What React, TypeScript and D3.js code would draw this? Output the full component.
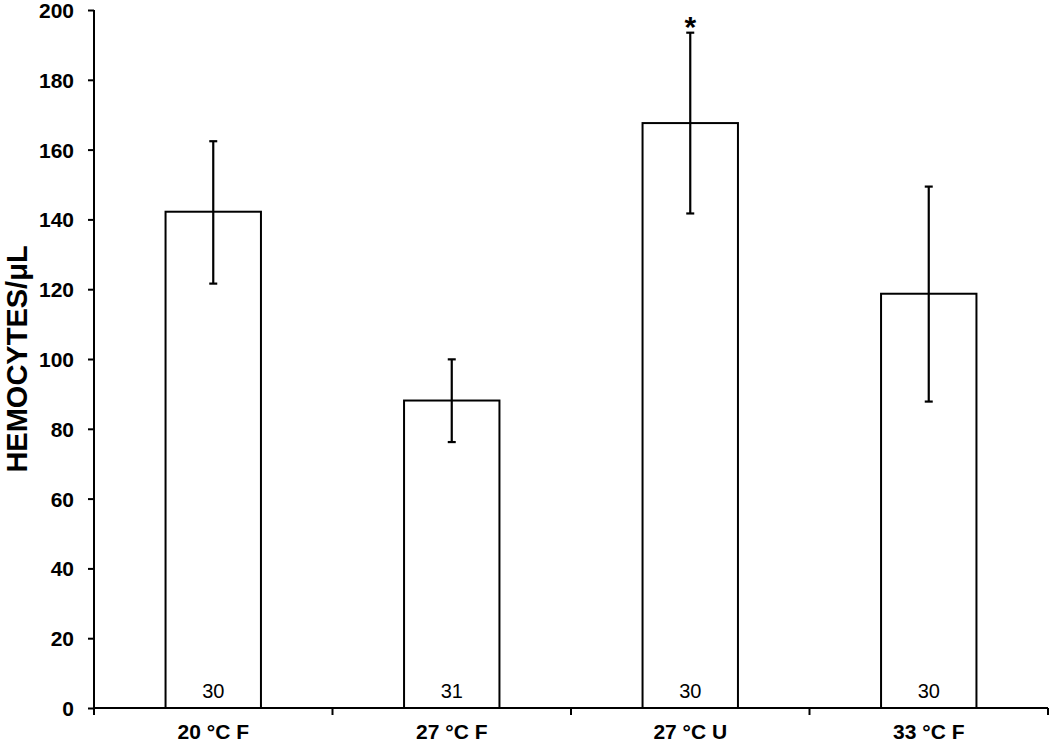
import React, { useEffect, useRef } from "react";
import * as d3 from "d3";

// categories and values
const categories = ["20 °C F", "27 °C F", "27 °C U", "33 °C F"];
const means = [142.2, 88.1, 167.6, 118.7];
const errHigh = [162.4, 99.9, 193.5, 149.4];
const errLow = [121.6, 76.2, 141.7, 87.8];
const sampleSizes = ["30", "31", "30", "30"];
const significant = [false, false, true, false];
const yTicks = [0, 20, 40, 60, 80, 100, 120, 140, 160, 180, 200];

const App = () => {
  const ref = useRef<SVGSVGElement>(null);

  useEffect(() => {
    const svg = d3.select(ref.current);
    svg.selectAll("*").remove();

    const width = 1050;
    const height = 744;
    const margin = { top: 10, right: 2, bottom: 36, left: 94 };
    const font = "Liberation Sans, Arial, sans-serif";

    const x = d3
      .scaleBand()
      .domain(categories)
      .range([margin.left, width - margin.right])
      .paddingInner(0.6)
      .paddingOuter(0.3);

    const y = d3
      .scaleLinear()
      .domain([0, 200])
      .range([height - margin.bottom, margin.top]);

    const data = categories.map((c, i) => ({
      cat: c,
      mean: means[i],
      hi: errHigh[i],
      lo: errLow[i],
      n: sampleSizes[i],
      sig: significant[i],
    }));

    const cx = (d) => x(d.cat)! + x.bandwidth() / 2;

    // bars
    svg
      .append("g")
      .selectAll("rect")
      .data(data)
      .enter()
      .append("rect")
      .attr("x", (d) => x(d.cat)!)
      .attr("y", (d) => y(d.mean))
      .attr("width", x.bandwidth())
      .attr("height", (d) => y(0) - y(d.mean))
      .attr("fill", "white")
      .attr("stroke", "black")
      .attr("stroke-width", 2);

    // error bars
    const eb = svg.append("g").attr("stroke", "black").attr("stroke-width", 2.2);
    eb.selectAll("line.v")
      .data(data)
      .enter()
      .append("line")
      .attr("x1", cx)
      .attr("x2", cx)
      .attr("y1", (d) => y(d.hi))
      .attr("y2", (d) => y(d.lo));
    [(d) => d.hi, (d) => d.lo].forEach((acc) => {
      eb.append("g")
        .selectAll("line")
        .data(data)
        .enter()
        .append("line")
        .attr("x1", (d) => cx(d) - 4)
        .attr("x2", (d) => cx(d) + 4)
        .attr("y1", (d) => y(acc(d)))
        .attr("y2", (d) => y(acc(d)));
    });

    // sample sizes
    svg
      .append("g")
      .selectAll("text")
      .data(data)
      .enter()
      .append("text")
      .attr("x", cx)
      .attr("y", y(0) - 10)
      .attr("text-anchor", "middle")
      .style("font-family", font)
      .style("font-size", "20px")
      .text((d) => d.n);

    // significance marker
    svg
      .append("g")
      .selectAll("text")
      .data(data.filter((d) => d.sig))
      .enter()
      .append("text")
      .attr("x", cx)
      .attr("y", (d) => y(d.hi) + 4)
      .attr("text-anchor", "middle")
      .style("font-family", font)
      .style("font-size", "30px")
      .style("font-weight", "bold")
      .text("*");

    // y axis
    const yAxis = svg
      .append("g")
      .attr("transform", `translate(${margin.left},0)`)
      .call(d3.axisLeft(y).tickValues(yTicks).tickSize(6).tickPadding(14));
    yAxis.select(".domain").attr("stroke-width", 2).attr("d", `M0,${y(200)}V${y(0)}`);
    yAxis.selectAll(".tick line").attr("stroke-width", 2);
    yAxis
      .selectAll(".tick text")
      .attr("dy", "0.36em")
      .style("font-family", font)
      .style("font-size", "21px")
      .style("font-weight", "bold")
      .attr("fill", "black");

    // x axis
    const xAxis = svg
      .append("g")
      .attr("transform", `translate(0,${y(0)})`)
      .call(d3.axisBottom(x).tickSize(0).tickPadding(16));
    xAxis
      .select(".domain")
      .attr("stroke-width", 2)
      .attr("d", `M${margin.left},0H${width - margin.right}`);
    xAxis
      .selectAll(".tick text")
      .style("font-family", font)
      .style("font-size", "21px")
      .style("font-weight", "bold")
      .attr("fill", "black");

    // category boundary ticks
    const step = (width - margin.right - margin.left) / categories.length;
    const bounds = d3.range(categories.length + 1).map((i) => margin.left + i * step);
    xAxis
      .append("g")
      .selectAll("line")
      .data(bounds)
      .enter()
      .append("line")
      .attr("x1", (d) => d)
      .attr("x2", (d) => d)
      .attr("y1", 0)
      .attr("y2", 7)
      .attr("stroke", "black")
      .attr("stroke-width", 2);

    // y title
    svg
      .append("text")
      .attr("transform", `translate(27,359) rotate(-90)`)
      .attr("text-anchor", "middle")
      .style("font-family", font)
      .style("font-size", "29px")
      .style("font-weight", "bold")
      .text("HEMOCYTES/μL");
  }, []);

  return (
    <svg
      ref={ref}
      width={1050}
      height={744}
      style={{ position: "absolute", left: 0, top: 0, background: "white" }}
    />
  );
};

export default App;
